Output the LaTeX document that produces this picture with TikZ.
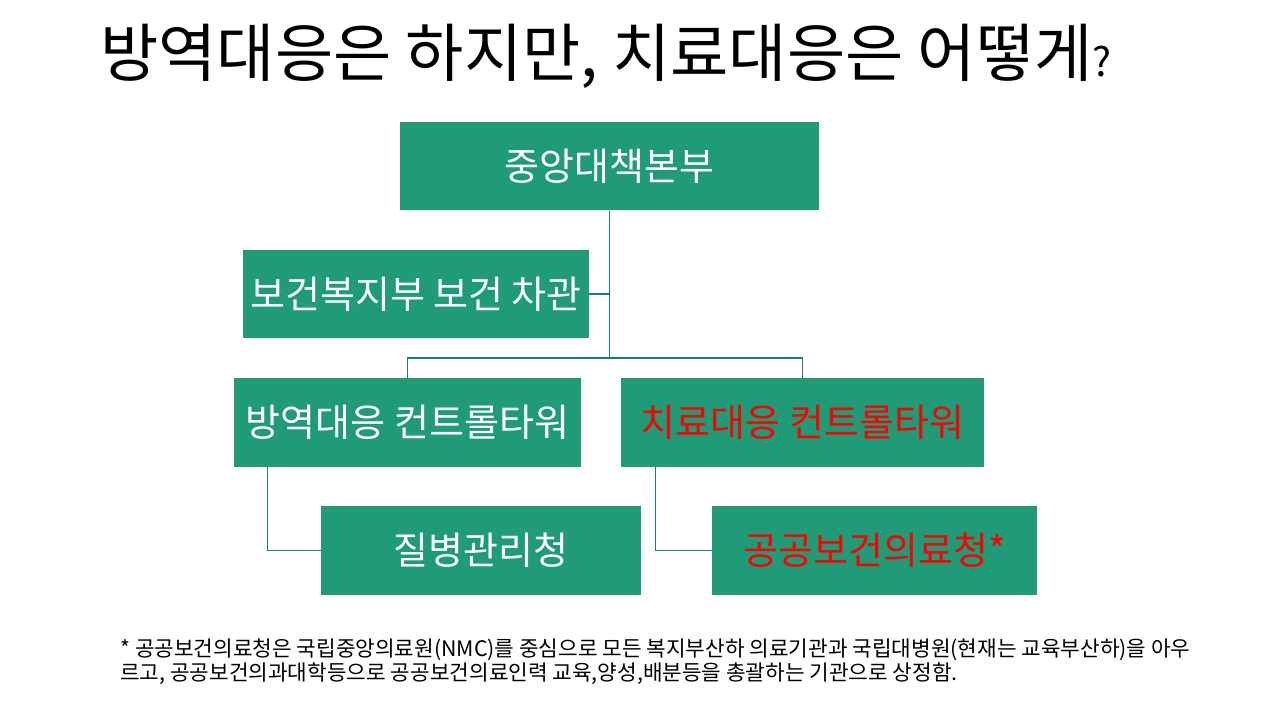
\documentclass[tikz,border=0pt]{standalone}
\usepackage{fontspec}
\setmainfont{Noto Sans CJK KR}
\definecolor{boxgreen}{RGB}{31,155,119}
\definecolor{linkgreen}{RGB}{22,130,98}
\begin{document}
\begin{tikzpicture}[x=0.75pt, y=-0.75pt,
   box/.style = {fill=boxgreen, text=white, inner sep=0pt, minimum height=66.5pt, font=\fontsize{28.5}{32}\selectfont},
   link/.style = {draw=linkgreen, line width=0.9pt}]
\useasboundingbox (0,0) rectangle (1280,720);

\node[anchor=base west, inner sep=0pt, font=\fontsize{47.5}{52}\selectfont] (title) at (100,77) {방역대응은 하지만, 치료대응은 어떻게{\fontsize{30}{32}\selectfont ?}};

\node[box, minimum width=314.25pt] (hq) at (609.5,166) {중앙대책본부};
\node[box, minimum width=259.5pt] (vice) at (416,294) {보건복지부 보건 차관};
\node[box, minimum width=260.25pt] (quar) at (407.5,422.5) {방역대응 컨트롤타워};
\node[box, minimum width=272.25pt, text=red] (treat) at (802.5,422.5) {치료대응 컨트롤타워};
\node[box, minimum width=240pt] (kdca) at (481,550.5) {질병관리청};
\node[box, minimum width=243.75pt, text=red] (pub) at (874.5,550.5) {공공보건의료청*};

\coordinate (hub) at (609.5,358);
\draw[link] (hq.south) -- (hub);
\draw[link] (vice.east) -- (vice.east -| hub);
\draw[link] (quar.north) |- (hub) -| (treat.north);
\draw[link] ([xshift=25.5pt]quar.south west) |- (kdca.west);
\draw[link] ([xshift=26.25pt]treat.south west) |- (pub.west);

\node[anchor=base west, inner sep=0pt, align=left, font=\fontsize{16}{18}\selectfont] (note) at (120,680)
   {* 공공보건의료청은 국립중앙의료원(NMC)를 중심으로 모든 복지부산하 의료기관과 국립대병원(현재는 교육부산하)을 아우\\
    르고, 공공보건의과대학등으로 공공보건의료인력 교육,양성,배분등을 총괄하는 기관으로 상정함.};

\end{tikzpicture}
\end{document}
